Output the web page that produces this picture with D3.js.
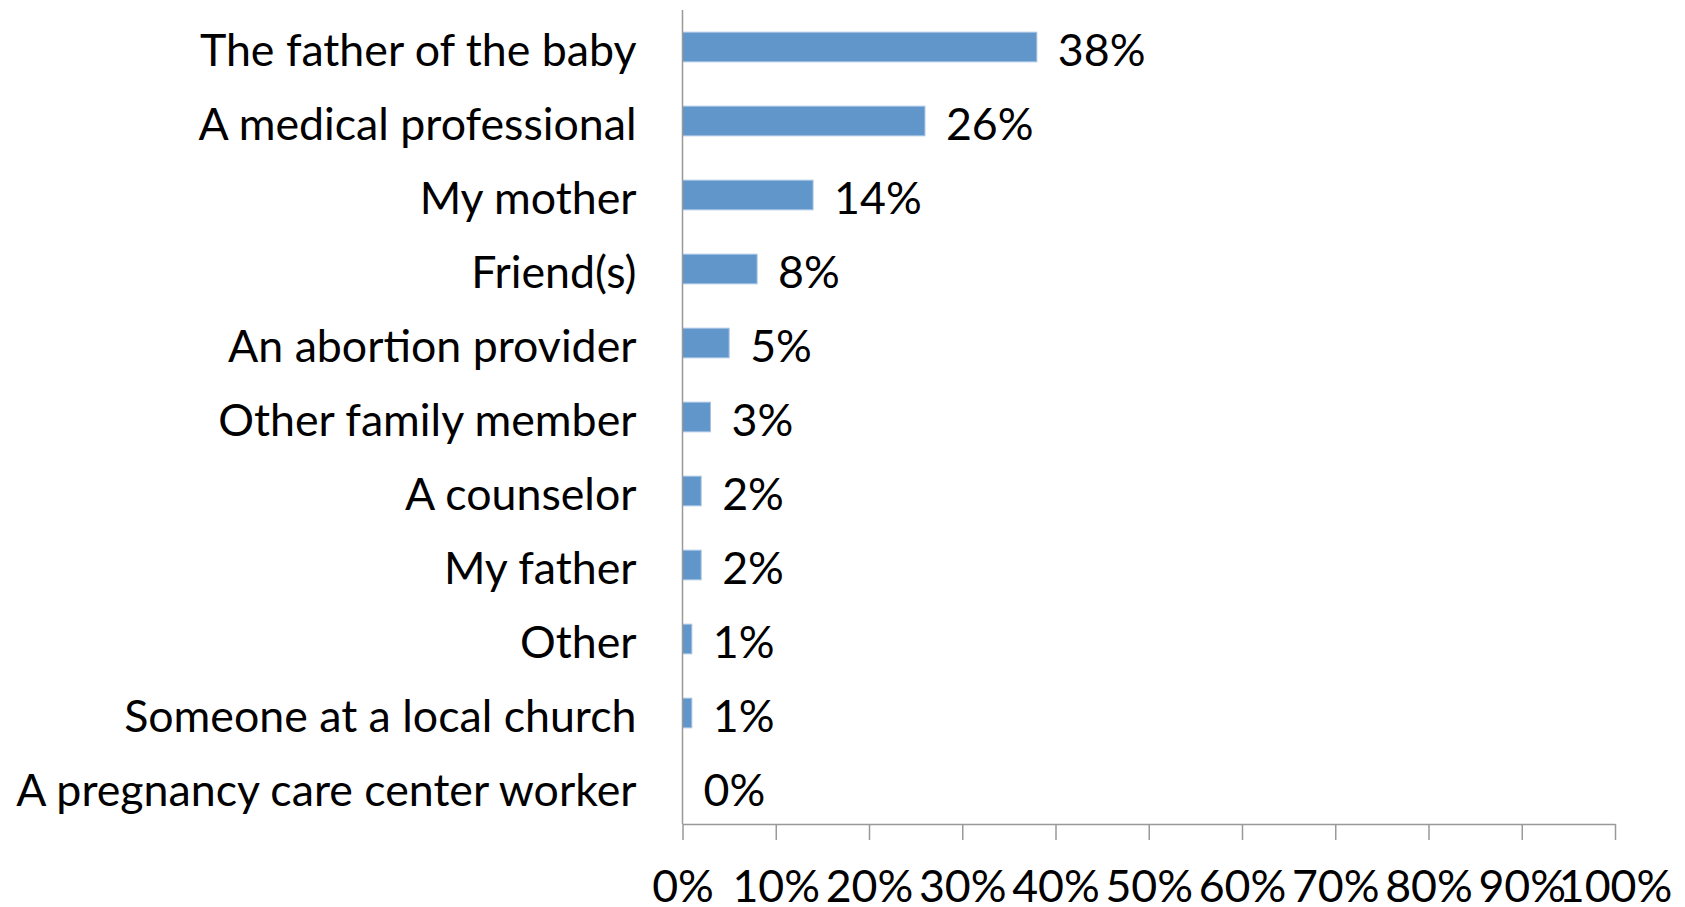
<!DOCTYPE html>
<html><head><meta charset="utf-8">
<script src="https://cdn.jsdelivr.net/npm/d3@7"></script>
<style>
  html, body { margin: 0; padding: 0; background: #fff; overflow: hidden; }
  svg { display: block; }
  text { font-family: Lato, sans-serif; fill: #000; }
</style>
</head><body>
<svg id="chart" width="1685" height="907"></svg>
<script>
const categories = [
  "The father of the baby",
  "A medical professional",
  "My mother",
  "Friend(s)",
  "An abortion provider",
  "Other family member",
  "A counselor",
  "My father",
  "Other",
  "Someone at a local church",
  "A pregnancy care center worker"
];
const values = [0.38, 0.26, 0.14, 0.08, 0.05, 0.03, 0.02, 0.02, 0.01, 0.01, 0.00];
const xTicks = [0, 0.1, 0.2, 0.3, 0.4, 0.5, 0.6, 0.7, 0.8, 0.9, 1.0];

const svg = d3.select("#chart");
const margin = { top: 10, right: 70, bottom: 83, left: 682.5 };
const width = +svg.attr("width");
const height = +svg.attr("height");
const innerWidth = width - margin.left - margin.right;
const innerHeight = height - margin.top - margin.bottom;
const fontSize = 44.7;
const pct = d3.format(".0%");

const data = categories.map((c, i) => ({ name: c, value: values[i] }));

const xScale = d3.scaleLinear().domain([0, 1]).range([0, innerWidth]);
const yScale = d3.scaleBand()
  .domain(categories)
  .range([0, innerHeight])
  .paddingInner(0.6)
  .paddingOuter(0.3);

const g = svg.append("g")
  .attr("transform", `translate(${margin.left},${margin.top})`);

// bars
g.selectAll(".bar")
  .data(data)
  .join("rect")
  .attr("class", "bar")
  .attr("x", 0)
  .attr("y", d => yScale(d.name))
  .attr("width", d => xScale(d.value))
  .attr("height", yScale.bandwidth())
  .attr("fill", "#6096CA")
  .attr("stroke", d => d.value > 0 ? "#A6C3E3" : "none")
  .attr("stroke-width", 1);

// value labels
g.selectAll(".val")
  .data(data)
  .join("text")
  .attr("class", "val")
  .attr("x", d => xScale(d.value) + 21)
  .attr("y", d => yScale(d.name) + yScale.bandwidth() / 2 + 18.5)
  .attr("font-size", fontSize)
  .text(d => pct(d.value));

// category labels
g.selectAll(".cat")
  .data(data)
  .join("text")
  .attr("class", "cat")
  .attr("x", -46)
  .attr("y", d => yScale(d.name) + yScale.bandwidth() / 2 + 18.5)
  .attr("text-anchor", "end")
  .attr("font-size", fontSize)
  .text(d => d.name);

// y axis line
g.append("line")
  .attr("x1", 0).attr("x2", 0)
  .attr("y1", 0).attr("y2", innerHeight)
  .attr("stroke", "#999")
  .attr("stroke-width", 1.5);

// x axis
const xAxis = g.append("g")
  .attr("class", "x-axis")
  .attr("transform", `translate(0,${innerHeight})`)
  .call(d3.axisBottom(xScale).tickValues(xTicks).tickFormat(pct).tickSize(16).tickSizeOuter(0));

xAxis.select(".domain").attr("stroke", "#999").attr("stroke-width", 1.5);
xAxis.selectAll(".tick line").attr("stroke", "#999").attr("stroke-width", 1.5);
xAxis.selectAll(".tick text")
  .attr("y", 78)
  .attr("dy", null)
  .attr("font-size", fontSize)
  .attr("font-family", "Lato, sans-serif")
  .attr("fill", "#000");
</script></body></html>
